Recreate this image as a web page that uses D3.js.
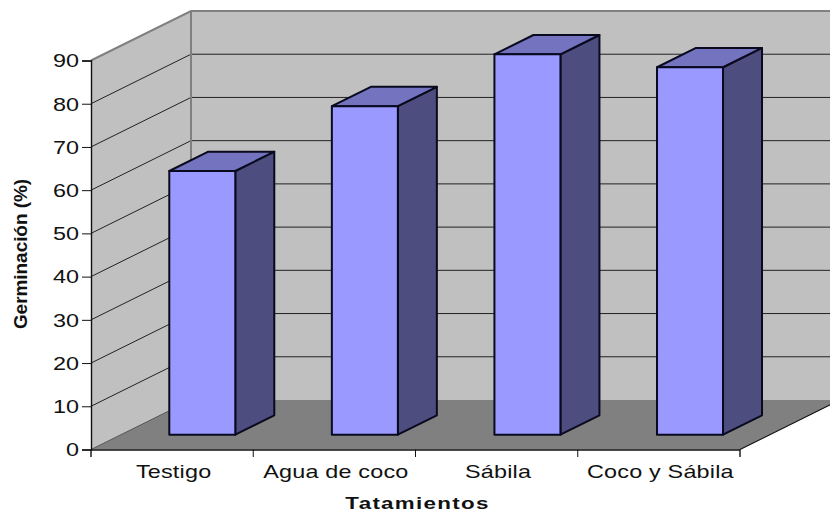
<!DOCTYPE html>
<html lang="es">
<head>
<meta charset="utf-8">
<script src="https://cdn.jsdelivr.net/npm/d3@7"></script>
<style>
  html, body { margin: 0; padding: 0; background: #fff; }
  svg { display: block; }
  text { font-family: "Liberation Sans", Arial, sans-serif; fill: #111; }
</style>
</head>
<body>
<svg id="chart" width="830" height="511"></svg>
<script>
const categories = ["Testigo", "Agua de coco", "Sábila", "Coco y Sábila"];
const germination = [61, 76, 88, 85];
const yTicks = [0, 10, 20, 30, 40, 50, 60, 70, 80, 90];
const xTitle = "Tatamientos";
const yTitle = "Germinación (%)";

const svg = d3.select("#chart");

const y = d3.scaleLinear().domain([0, 90]).range([449.5, 60.5]);
const x = d3.scaleBand().domain(categories).range([91, 740]);
// Bars are laid out on a very slightly wider band than the axis
const xBar = d3.scaleBand().domain(categories).range([91, 741.3]);

// Oblique projection: depth 0 is the front plane, depth 1 the back wall
const depthX = 100, depthY = -49.5;
const project = (px, py, depth) => [px + depth * depthX, py + depth * depthY];
const poly = pts => d3.line()(pts) + "Z";

// Text is widened horizontally, as wide-set Arial
const stretch = 1.3;

const x0 = x.range()[0], x1 = x.range()[1];
const yBase = y(0), yTop = y(90);

const plot = svg.append("g");

// Back wall
plot.append("path")
  .attr("d", poly([project(x0, yBase, 1), project(x0, yTop, 1), project(x1, yTop, 1), project(x1, yBase, 1)]))
  .attr("fill", "#c0c0c0");
// Left wall
plot.append("path")
  .attr("d", poly([[x0, yBase], [x0, yTop], project(x0, yTop, 1), project(x0, yBase, 1)]))
  .attr("fill", "#c0c0c0");
// Floor
plot.append("path")
  .attr("d", poly([[x0, yBase], project(x0, yBase, 1), project(x1, yBase, 1), [x1, yBase]]))
  .attr("fill", "#808080");

// Gridlines along the left wall and across the back wall
const gridTicks = yTicks.filter(t => t > 0 && t < 90);
plot.selectAll("path.grid").data(gridTicks).join("path")
  .attr("class", "grid")
  .attr("fill", "none")
  .attr("stroke", "#222")
  .attr("stroke-width", 1)
  .attr("d", t => d3.line()([[x0, y(t)], project(x0, y(t), 1), project(x1, y(t), 1)]));

// Wall edges
plot.append("path")
  .attr("fill", "none")
  .attr("stroke", "#808080")
  .attr("stroke-width", 2)
  .attr("d", d3.line()([[x0, yTop], project(x0, yTop, 1), project(x1, yTop, 1)]));
plot.append("path")
  .attr("fill", "none")
  .attr("stroke", "#808080")
  .attr("stroke-width", 2)
  .attr("d", d3.line()([project(x0, yTop, 1), project(x0, yBase, 1)]));
plot.append("path")
  .attr("fill", "none")
  .attr("stroke", "#555")
  .attr("stroke-width", 1)
  .attr("d", d3.line()([[x0, yBase], project(x0, yBase, 1)]));
plot.append("path")
  .attr("fill", "none")
  .attr("stroke", "#111")
  .attr("stroke-width", 1.2)
  .attr("d", d3.line()([[x1, yBase], project(x1, yBase, 1)]));

// Bars sit mid-depth on the floor
const barWidth = 66, barNear = 0.3, barDepth = 0.39;
const bars = plot.selectAll("g.bar").data(categories.map((c, i) => ({ c, v: germination[i] })))
  .join("g").attr("class", "bar")
  .attr("stroke", "#0a0a1e").attr("stroke-width", 2).attr("stroke-linejoin", "round");

const corners = d => {
  const left = xBar(d.c) + xBar.bandwidth() / 2 - barWidth / 2;
  const right = left + barWidth;
  return {
    fb: project(left, y(0), barNear), fbr: project(right, y(0), barNear),
    ft: project(left, y(d.v), barNear), ftr: project(right, y(d.v), barNear),
    bbr: project(right, y(0), barNear + barDepth),
    btr: project(right, y(d.v), barNear + barDepth),
    btl: project(left, y(d.v), barNear + barDepth)
  };
};
bars.append("path").attr("fill", "#4d4d80")
  .attr("d", d => { const k = corners(d); return poly([k.fbr, k.ftr, k.btr, k.bbr]); });
bars.append("path").attr("fill", "#7373bf")
  .attr("d", d => { const k = corners(d); return poly([k.ft, k.btl, k.btr, k.ftr]); });
bars.append("path").attr("fill", "#9999ff")
  .attr("d", d => { const k = corners(d); return poly([k.fb, k.ft, k.ftr, k.fbr]); });

// Value axis
const yAxis = d3.axisLeft(y).tickValues(yTicks).tickSize(9).tickPadding(3);
const gy = svg.append("g").attr("transform", `translate(${x0},0)`).call(yAxis);
gy.selectAll("line, path").attr("stroke", "#111");
gy.selectAll("path").attr("stroke-width", 1.4);
gy.selectAll("text")
  .attr("font-size", 18)
  .attr("x", 0).attr("dy", "0.35em")
  .attr("text-anchor", "end")
  .attr("transform", `translate(-12,0) scale(${stretch},1)`)
  .style("font-family", '"Liberation Sans", Arial, sans-serif');

// Category axis
const xAxis = d3.axisBottom(x).tickSize(0).tickPadding(0);
const gx = svg.append("g").attr("transform", `translate(0,${yBase})`).call(xAxis);
gx.selectAll("text")
  .attr("font-size", 18).attr("letter-spacing", 0.15)
  .attr("y", 0).attr("dy", 0)
  .attr("text-anchor", "middle")
  .attr("transform", `translate(1.5,28.5) scale(${stretch},1)`)
  .style("font-family", '"Liberation Sans", Arial, sans-serif');
gx.selectAll("path").attr("stroke", "#111").attr("stroke-width", 1.4)
  .attr("d", `M${x0},0.5V7.5M${x0},0.5H${x1}V7.5`);
// Tick marks fall on the category boundaries, not their centres
gx.selectAll("line.sep").data(d3.range(1, categories.length)).join("line")
  .attr("class", "sep")
  .attr("stroke", "#111")
  .attr("x1", i => x0 + i * x.step()).attr("x2", i => x0 + i * x.step())
  .attr("y1", 0).attr("y2", 7.5);

// Axis titles
svg.append("text")
  .attr("transform", `translate(417.5,508.5) scale(${stretch},1)`)
  .attr("text-anchor", "middle")
  .attr("font-size", 17.2).attr("font-weight", "bold").attr("letter-spacing", 1)
  .text(xTitle);
svg.append("text")
  .attr("transform", "translate(27,254) rotate(-90)")
  .attr("text-anchor", "middle")
  .attr("font-size", 19).attr("font-weight", "bold").attr("letter-spacing", -0.05)
  .text(yTitle);
</script>
</body>
</html>
